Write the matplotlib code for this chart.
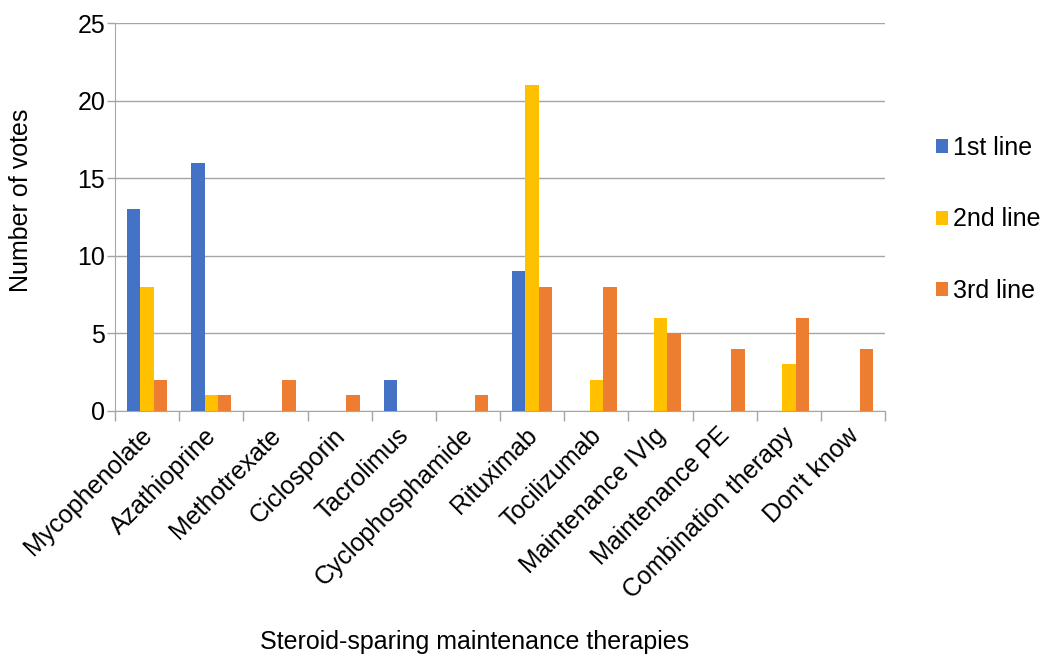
import matplotlib.pyplot as plt
import matplotlib.transforms as mtransforms
import numpy as np

plt.rcParams['font.family'] = ['Liberation Sans', 'DejaVu Sans']

# Data
therapies = ['Mycophenolate', 'Azathioprine', 'Methotrexate', 'Ciclosporin',
             'Tacrolimus', 'Cyclophosphamide', 'Rituximab', 'Tocilizumab',
             'Maintenance IVIg', 'Maintenance PE', 'Combination therapy',
             "Don't know"]
first_line = [13, 16, 0, 0, 2, 0, 9, 0, 0, 0, 0, 0]
second_line = [8, 1, 0, 0, 0, 0, 21, 2, 6, 0, 3, 0]
third_line = [2, 1, 2, 1, 0, 1, 8, 8, 5, 4, 6, 4]
series_names = ['1st line', '2nd line', '3rd line']
colors = ['#4472C4', '#FFC000', '#ED7D31']

fig = plt.figure(figsize=(10.5, 6.67), dpi=100)
ax = fig.add_axes([0.1095, 0.384, 0.7335, 0.5815])

x = np.arange(len(therapies))
w = 0.21
for i, (vals, name, c) in enumerate(zip([first_line, second_line, third_line],
                                        series_names, colors)):
    ax.bar(x + (i - 1) * w, vals, width=w, color=c, label=name, zorder=3)

ax.set_xlim(-0.5, len(therapies) - 0.5)
ax.set_ylim(0, 25)
ax.set_yticks([0, 5, 10, 15, 20, 25])
ax.grid(axis='y', color='#A6A6A6', linewidth=1, zorder=0)

# category labels, ticks at category boundaries
ax.set_xticks(x)
ax.set_xticklabels(therapies, rotation=45, ha='right', rotation_mode='anchor',
                   fontsize=18)
ax.tick_params(axis='x', length=0, pad=9)
shift = mtransforms.ScaledTranslation(-0.07, 0, fig.dpi_scale_trans)
for lab in ax.get_xticklabels():
    lab.set_transform(lab.get_transform() + shift)
ax.set_xticks(np.arange(-0.5, len(therapies)), minor=True)
ax.tick_params(axis='x', which='minor', length=7, color='#A6A6A6', width=1)
ax.tick_params(axis='y', length=6, color='#A6A6A6', width=1, labelsize=18, pad=1)

for s in ['top', 'right']:
    ax.spines[s].set_visible(False)
for s in ['left', 'bottom']:
    ax.spines[s].set_color('#A6A6A6')

fig.text(0.02, 0.70, 'Number of votes', fontsize=18, rotation=90,
         ha='center', va='center')
fig.text(0.452, 0.037, 'Steroid-sparing maintenance therapies', fontsize=18,
         ha='center', va='center')

fig.legend(loc='center left', bbox_to_anchor=(0.870, 0.671), frameon=False,
           fontsize=18, handlelength=0.48, handleheight=0.48, handletextpad=0.2,
           labelspacing=1.9)

fig.savefig('out.png', dpi=100)
